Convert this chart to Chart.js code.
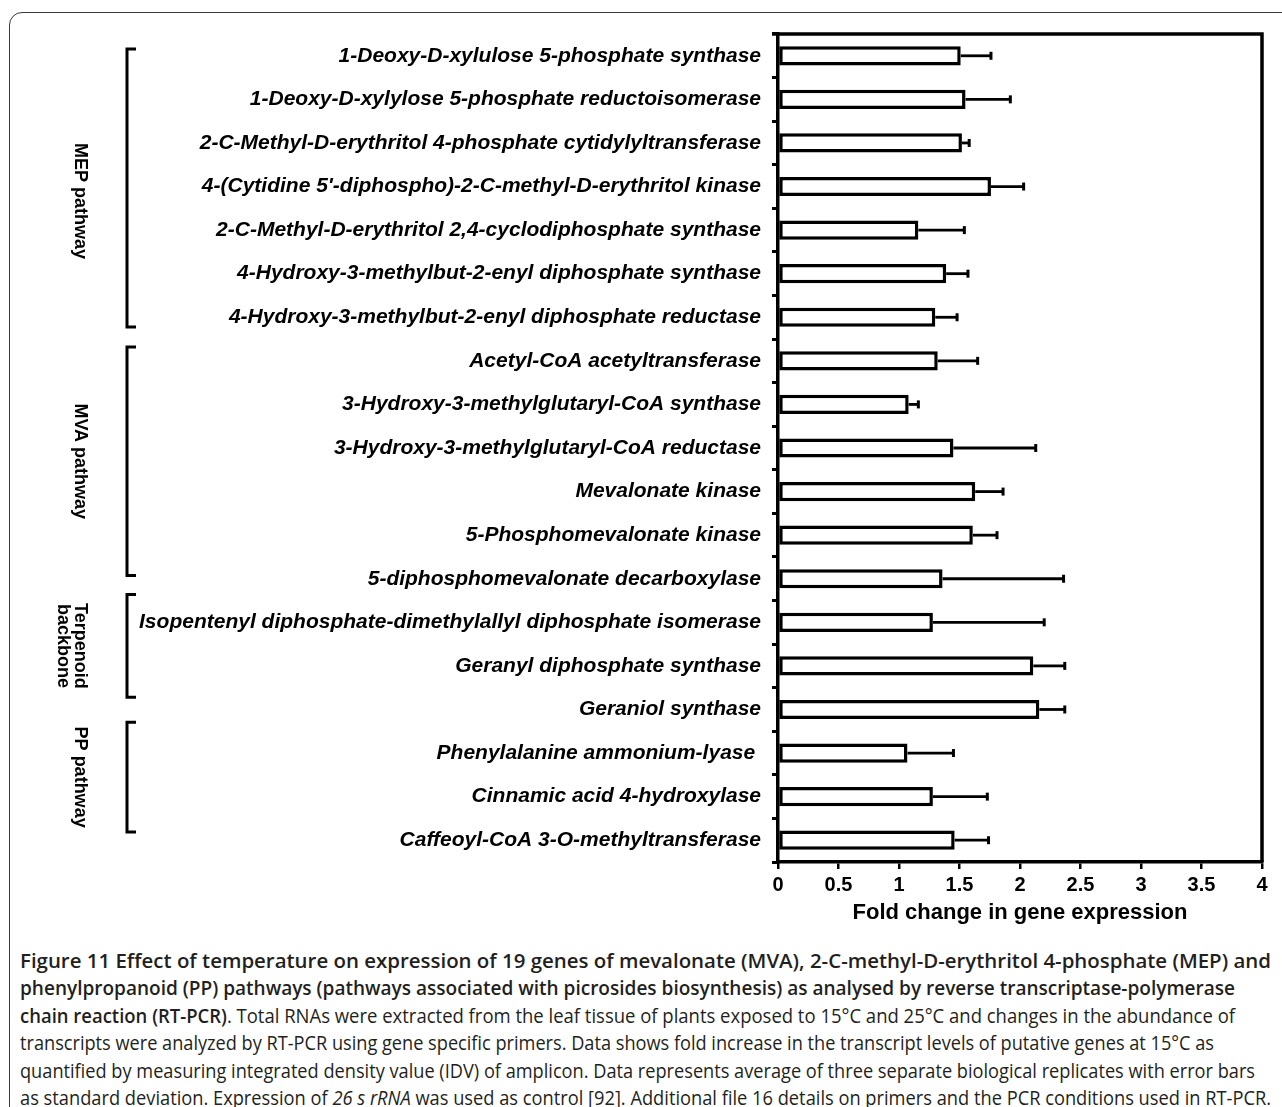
<!DOCTYPE html>
<html>
<head>
<meta charset="utf-8">
<script src="https://cdn.jsdelivr.net/npm/chart.js@4.4.1/dist/chart.umd.min.js"></script>
<style>
  html, body { margin: 0; padding: 0; background: #fff; width: 1282px; height: 1107px; overflow: hidden; }
  #frame { position: absolute; left: 9px; top: 12px; width: 1320px; height: 1200px; border: 1.5px solid #3a3a3a; border-radius: 13px; box-sizing: border-box; }
  #wrap { position: absolute; left: 0; top: 0; width: 1282px; height: 940px; }
  #caption { position: absolute; left: 20px; top: 947px; font-family: "Open Sans", sans-serif; font-size: 20px; line-height: 27.4px; color: #231f20; }
  #caption div { white-space: nowrap; height: 27.4px; }
  #caption span { display: inline-block; transform-origin: 0 50%; }
  #caption b { font-weight: 600; }
</style>
</head>
<body>
<div id="frame"></div>
<div id="wrap"><canvas id="canvasChart"></canvas></div>
<div id="caption">
  <div><span><b>Figure 11 Effect of temperature on expression of 19 genes of mevalonate (MVA), 2-C-methyl-D-erythritol 4-phosphate (MEP) and</b></span></div>
  <div><span><b>phenylpropanoid (PP) pathways (pathways associated with picrosides biosynthesis) as analysed by reverse transcriptase-polymerase</b></span></div>
  <div><span><b>chain reaction (RT-PCR)</b>. Total RNAs were extracted from the leaf tissue of plants exposed to 15°C and 25°C and changes in the abundance of</span></div>
  <div><span>transcripts were analyzed by RT-PCR using gene specific primers. Data shows fold increase in the transcript levels of putative genes at 15°C as</span></div>
  <div><span>quantified by measuring integrated density value (IDV) of amplicon. Data represents average of three separate biological replicates with error bars</span></div>
  <div><span>as standard deviation. Expression of <i>26 s rRNA</i> was used as control [92]. Additional file 16 details on primers and the PCR conditions used in RT-PCR.</span></div>
</div>
<script>
const genes = [
  '1-Deoxy-D-xylulose 5-phosphate synthase',
  '1-Deoxy-D-xylylose 5-phosphate reductoisomerase',
  '2-C-Methyl-D-erythritol 4-phosphate cytidylyltransferase',
  "4-(Cytidine 5'-diphospho)-2-C-methyl-D-erythritol kinase",
  '2-C-Methyl-D-erythritol 2,4-cyclodiphosphate synthase',
  '4-Hydroxy-3-methylbut-2-enyl diphosphate synthase',
  '4-Hydroxy-3-methylbut-2-enyl diphosphate reductase',
  'Acetyl-CoA acetyltransferase',
  '3-Hydroxy-3-methylglutaryl-CoA synthase',
  '3-Hydroxy-3-methylglutaryl-CoA reductase',
  'Mevalonate kinase',
  '5-Phosphomevalonate kinase',
  '5-diphosphomevalonate decarboxylase',
  'Isopentenyl diphosphate-dimethylallyl diphosphate isomerase',
  'Geranyl diphosphate synthase',
  'Geraniol synthase',
  'Phenylalanine ammonium-lyase ',
  'Cinnamic acid 4-hydroxylase',
  'Caffeoyl-CoA 3-O-methyltransferase'
];
const foldChange = [1.51, 1.55, 1.52, 1.76, 1.16, 1.39, 1.30, 1.32, 1.08, 1.45, 1.63, 1.61, 1.36, 1.28, 2.11, 2.16, 1.07, 1.28, 1.46];
const sd = [0.25, 0.37, 0.06, 0.27, 0.38, 0.18, 0.18, 0.33, 0.08, 0.68, 0.23, 0.20, 1.00, 0.92, 0.26, 0.21, 0.38, 0.45, 0.28];
const xTicks = [0, 0.5, 1, 1.5, 2, 2.5, 3, 3.5, 4];

const groupNames = [['MEP pathway'], ['MVA pathway'], ['Terpenoid', 'backbone'], ['PP pathway']];
const groupFirst = [0, 7, 13, 16];
const groupLast = [6, 12, 15, 18];

// hand-placed bracket trims (px from the category boundaries) and label shifts
const bracketTrim = [[15, -12], [8, -25], [-6, -34], [-9, -30]];
const labelShift = [13, 0, 0, 0];

const font = "'Liberation Sans', Arial, Helvetica, sans-serif";

const extras = {
  id: 'extras',
  afterDatasetsDraw(chart) {
    const { ctx, chartArea: a, scales: { x, y } } = chart;
    ctx.save();
    ctx.strokeStyle = '#000';
    ctx.lineCap = 'butt';

    // one-sided error bars
    foldChange.forEach((v, i) => {
      const py = y.getPixelForValue(i);
      const x0 = x.getPixelForValue(v);
      const x1 = x.getPixelForValue(v + sd[i]);
      ctx.lineWidth = 2.8;
      ctx.beginPath();
      ctx.moveTo(x0, py);
      ctx.lineTo(x1, py);
      ctx.stroke();
      ctx.lineWidth = 3;
      ctx.beginPath();
      ctx.moveTo(x1, py - 4);
      ctx.lineTo(x1, py + 4);
      ctx.stroke();
    });

    // top and right of the box
    ctx.lineWidth = 3.5;
    ctx.beginPath();
    ctx.moveTo(a.left - 6, a.top);
    ctx.lineTo(a.right, a.top);
    ctx.lineTo(a.right, a.bottom);
    ctx.stroke();

    // group brackets and labels
    const step = y.getPixelForValue(1) - y.getPixelForValue(0);
    ctx.lineWidth = 3;
    ctx.fillStyle = '#000';
    ctx.font = 'bold 18px ' + font;
    ctx.textAlign = 'center';
    ctx.textBaseline = 'middle';
    groupNames.forEach((lines, g) => {
      const top = y.getPixelForValue(groupFirst[g]) - step / 2 + bracketTrim[g][0];
      const bot = y.getPixelForValue(groupLast[g]) + step / 2 + bracketTrim[g][1];
      ctx.beginPath();
      ctx.moveTo(136, top);
      ctx.lineTo(127, top);
      ctx.lineTo(127, bot);
      ctx.lineTo(136, bot);
      ctx.stroke();
      const mid = (top + bot) / 2 + labelShift[g];
      lines.forEach((t, k) => {
        ctx.save();
        ctx.translate(80 - k * 17, mid);
        ctx.rotate(Math.PI / 2);
        ctx.fillText(t, 0, 0);
        ctx.restore();
      });
    });
    ctx.restore();
  }
};

new Chart(document.getElementById('canvasChart'), {
  type: 'bar',
  data: {
    labels: genes,
    datasets: [{
      data: foldChange,
      backgroundColor: '#fff',
      borderColor: '#000',
      borderWidth: 3.5,
      borderSkipped: false,
      categoryPercentage: 1,
      barPercentage: 0.44
    }]
  },
  options: {
    indexAxis: 'y',
    responsive: true,
    maintainAspectRatio: false,
    animation: false,
    layout: { padding: { left: 0, right: 20, top: 34, bottom: 0 } },
    plugins: { legend: { display: false }, tooltip: { enabled: false } },
    scales: {
      x: {
        min: 0,
        max: 4,
        afterBuildTicks: s => { s.ticks = xTicks.map(v => ({ value: v })); },
        afterFit: s => { s.height = 78; },
        grid: { drawOnChartArea: false, color: '#000', lineWidth: 2.5, tickLength: 7 },
        border: { display: true, color: '#000', width: 3.5 },
        ticks: {
          color: '#000',
          padding: 4,
          callback: v => String(v),
          font: { family: font, size: 20, weight: 'bold' }
        },
        title: {
          display: true,
          text: 'Fold change in gene expression',
          color: '#000',
          padding: { top: 4, bottom: 14 },
          font: { family: font, size: 22, weight: 'bold' }
        }
      },
      y: {
        afterFit: s => { s.width = 778; },
        grid: { offset: true, drawOnChartArea: false, color: '#000', lineWidth: 3, tickLength: 6 },
        border: { display: true, color: '#000', width: 3.5 },
        ticks: { color: '#000', padding: 11, autoSkip: false, font: { family: font, size: 21, style: 'italic', weight: 'bold' } }
      }
    }
  },
  plugins: [extras]
});

// squeeze caption lines to the widths of the printed figure
const captionWidths = [1251, 1215, 1215, 1194, 1235, 1251];
function fitCaption() {
  document.querySelectorAll('#caption > div > span').forEach((el, i) => {
    el.style.transform = 'none';
    const w = el.getBoundingClientRect().width;
    el.style.transform = 'scaleX(' + (captionWidths[i] / w) + ')';
  });
}
fitCaption();
if (document.fonts && document.fonts.ready) document.fonts.ready.then(fitCaption);
</script>
</body>
</html>
